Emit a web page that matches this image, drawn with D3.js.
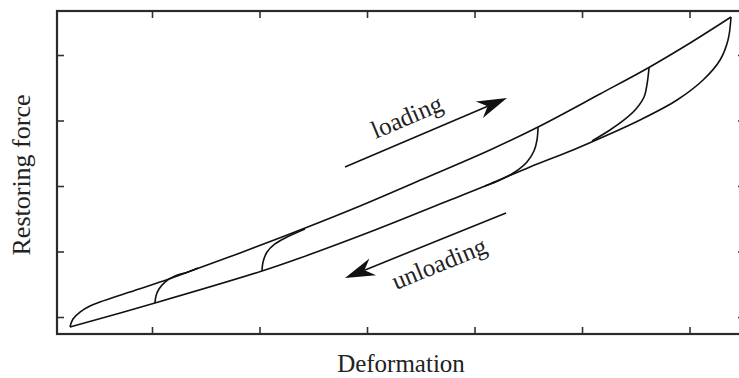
<!DOCTYPE html>
<html>
<head>
<meta charset="utf-8">
<script src="https://cdn.jsdelivr.net/npm/d3@7"></script>
<style>
  body { margin: 0; background: #fff; }
  svg text { font-family: "Liberation Serif", "DejaVu Serif", serif; fill: #222; }
</style>
</head>
<body>
<div id="chart"></div>
<script>
// tick positions (no labels on this chart)
const xTicks = [1, 2, 3, 4, 5, 6];
const yTicks = [1, 2, 3, 4, 5];

// outer loop: loading branch (upper) and unloading branch (lower)
const loadX = [0.237, 0.265, 0.330, 0.423, 0.516, 0.795, 1.074, 1.335, 1.819, 2.377, 2.935, 3.521, 4.144, 4.591, 5.167, 5.614, 6.005, 6.386];
const loadY = [0.847, 0.969, 1.076, 1.168, 1.229, 1.382, 1.534, 1.687, 1.977, 2.328, 2.695, 3.107, 3.550, 3.901, 4.405, 4.802, 5.183, 5.580];
const unloadX = [0.237, 1.028, 2.023, 2.377, 3.074, 3.772, 4.144, 4.516, 4.916, 5.195, 5.540, 5.884, 6.126, 6.284, 6.358, 6.386];
const unloadY = [0.847, 1.214, 1.702, 1.901, 2.328, 2.786, 3.031, 3.290, 3.550, 3.748, 4.008, 4.313, 4.618, 4.924, 5.229, 5.580];

// inner branches
const reload1X = [1.028, 1.037, 1.065, 1.121, 1.214, 1.335, 1.428];
const reload1Y = [1.214, 1.321, 1.427, 1.534, 1.626, 1.687, 1.748];
const reload2X = [2.023, 2.033, 2.070, 2.144, 2.256, 2.423];
const reload2Y = [1.702, 1.840, 1.992, 2.115, 2.221, 2.344];
const unload1X = [4.591, 4.581, 4.553, 4.488, 4.377, 4.237, 4.098];
const unload1Y = [3.901, 3.702, 3.534, 3.366, 3.214, 3.092, 3.000];
const unload2X = [5.623, 5.605, 5.577, 5.502, 5.391, 5.260, 5.093];
const unload2Y = [4.802, 4.557, 4.359, 4.176, 4.008, 3.855, 3.687];

// annotation arrows [x1, y1, x2, y2]
const loadingArrow = [2.795, 3.290, 4.302, 4.344];
const unloadingArrow = [4.293, 2.588, 2.795, 1.595];

const width = 739, height = 378;
const mLeft = 57, mRight = 745, mTop = 11, mBottom = 334;

const svg = d3.select("#chart").append("svg")
  .attr("width", width)
  .attr("height", height);

const x = d3.scaleLinear().domain([0.1163, 6.516]).range([mLeft, mRight]);
const y = d3.scaleLinear().domain([0.7405, 5.672]).range([mBottom, mTop]);

// ticks pointing inward, on all four sides
function styleAxis(g) {
  g.select(".domain").remove();
  g.selectAll(".tick line").attr("stroke", "#333").attr("stroke-width", 1.6);
}
svg.append("g").attr("transform", `translate(0,${mBottom})`)
  .call(d3.axisBottom(x).tickValues(xTicks).tickSize(-7).tickFormat(""))
  .call(styleAxis);
svg.append("g").attr("transform", `translate(0,${mTop})`)
  .call(d3.axisTop(x).tickValues(xTicks).tickSize(-7).tickFormat(""))
  .call(styleAxis);
svg.append("g").attr("transform", `translate(${mLeft},0)`)
  .call(d3.axisLeft(y).tickValues(yTicks).tickSize(-7).tickFormat(""))
  .call(styleAxis);
svg.append("g").attr("transform", `translate(${mRight},0)`)
  .call(d3.axisRight(y).tickValues(yTicks).tickSize(-7).tickFormat(""))
  .call(styleAxis);

svg.append("rect")
  .attr("x", mLeft).attr("y", mTop)
  .attr("width", mRight - mLeft).attr("height", mBottom - mTop)
  .attr("fill", "none").attr("stroke", "#2a2a2a").attr("stroke-width", 2.2);

const line = d3.line()
  .x(d => x(d[0]))
  .y(d => y(d[1]))
  .curve(d3.curveCatmullRom.alpha(0.5));

const curves = [
  [loadX, loadY], [unloadX, unloadY],
  [reload1X, reload1Y], [reload2X, reload2Y],
  [unload1X, unload1Y], [unload2X, unload2Y]
];

svg.append("g").selectAll("path")
  .data(curves)
  .enter()
  .append("path")
  .attr("d", c => line(c[0].map((v, i) => [v, c[1][i]])))
  .attr("fill", "none")
  .attr("stroke", "#111")
  .attr("stroke-width", 1.6);

// arrows with barbed heads
function drawArrow(a) {
  const x1 = x(a[0]), y1 = y(a[1]), x2 = x(a[2]), y2 = y(a[3]);
  const ang = Math.atan2(y2 - y1, x2 - x1);
  const len = 30, half = 9, notch = 21;
  const ux = Math.cos(ang), uy = Math.sin(ang);
  const px = -uy, py = ux;
  const bx = x2 - ux * len, by = y2 - uy * len;
  const nx = x2 - ux * notch, ny = y2 - uy * notch;
  svg.append("line")
    .attr("x1", x1).attr("y1", y1)
    .attr("x2", nx).attr("y2", ny)
    .attr("stroke", "#111").attr("stroke-width", 1.6);
  svg.append("path")
    .attr("d", `M${x2},${y2} L${bx + px * half},${by + py * half} L${nx},${ny} L${bx - px * half},${by - py * half} Z`)
    .attr("fill", "#111");
}
drawArrow(loadingArrow);
drawArrow(unloadingArrow);

svg.append("text")
  .attr("transform", `translate(${x(3.40)},${y(3.94)}) rotate(-23)`)
  .attr("text-anchor", "middle")
  .attr("font-size", 25)
  .text("loading");

svg.append("text")
  .attr("transform", `translate(${x(3.70)},${y(1.70)}) rotate(-22)`)
  .attr("text-anchor", "middle")
  .attr("font-size", 25)
  .text("unloading");

svg.append("text")
  .attr("x", 401).attr("y", 372)
  .attr("text-anchor", "middle")
  .attr("font-size", 25)
  .text("Deformation");

svg.append("text")
  .attr("transform", "translate(30,175) rotate(-90)")
  .attr("text-anchor", "middle")
  .attr("font-size", 26)
  .text("Restoring force");
</script>
</body>
</html>
